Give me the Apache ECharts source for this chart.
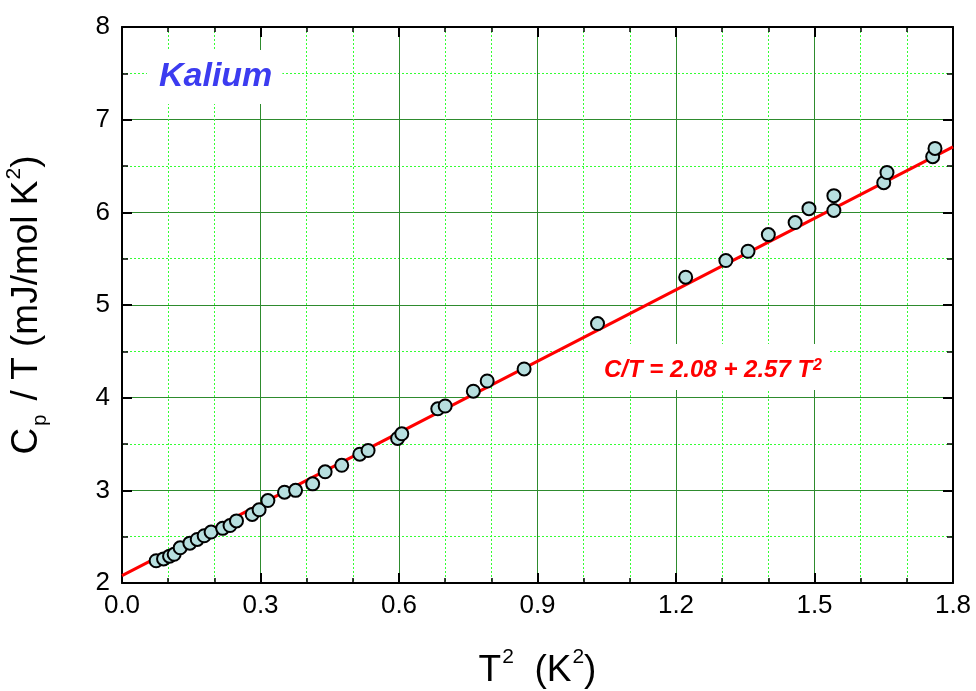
<!DOCTYPE html>
<html>
<head>
<meta charset="utf-8">
<script src="https://cdn.jsdelivr.net/npm/echarts@6/dist/echarts.min.js"></script>
<style>html,body{margin:0;padding:0;background:#fff;}#c{width:976px;height:691px;}</style>
</head>
<body>
<div id="c"></div>
<script>
// Data
const t2 = [0.074, 0.090, 0.103, 0.113, 0.126, 0.147, 0.163, 0.178, 0.193, 0.218, 0.234, 0.248, 0.282, 0.297, 0.316, 0.352, 0.376,
  0.413, 0.440, 0.476, 0.515, 0.533, 0.597, 0.606, 0.684, 0.700, 0.761, 0.791, 0.871,
  1.030, 1.221, 1.308, 1.356, 1.400, 1.458, 1.488, 1.542, 1.542, 1.650, 1.657, 1.756, 1.761];
const cpT = [2.24, 2.26, 2.29, 2.31, 2.38, 2.43, 2.47, 2.51, 2.55, 2.59, 2.62, 2.67, 2.74, 2.79, 2.89, 2.98, 3.00,
  3.07, 3.20, 3.27, 3.39, 3.43, 3.56, 3.61, 3.88, 3.91, 4.07, 4.18, 4.31,
  4.80, 5.30, 5.48, 5.58, 5.76, 5.89, 6.04, 6.02, 6.18, 6.32, 6.43, 6.60, 6.69];
const fitX = [0, 1.8];
const fitY = [2.08, 6.706];
const xTicks = [0.0, 0.3, 0.6, 0.9, 1.2, 1.5, 1.8];
const yTicks = [2, 3, 4, 5, 6, 7, 8];

const font = 'Liberation Sans, Arial, sans-serif';
const majorGrid = { show: true, lineStyle: { color: '#2e8b2e', width: 1, type: 'solid' } };
const minorGrid = { show: true, lineStyle: { color: '#33ff33', width: 1, type: [2, 2] } };

const chart = echarts.init(document.getElementById('c'), null, { renderer: 'canvas' });
const scatterData = t2.map((x, i) => [x, cpT[i]]);
const fitData = fitX.map((x, i) => [x, fitY[i]]);

chart.setOption({
  backgroundColor: '#fff',
  animation: false,
  grid: { left: 122, right: 23, top: 27, bottom: 108, containLabel: false, outerBoundsMode: 'none' },
  xAxis: [{
    type: 'value', min: 0, max: 1.8, interval: 0.3,
    axisLine: { show: true, onZero: false, lineStyle: { color: '#000', width: 2 } },
    axisTick: { show: true, inside: true, length: 10, lineStyle: { color: '#000', width: 2 } },
    minorTick: { show: true, splitNumber: 3, length: 5, lineStyle: { color: '#000', width: 1.5 } },
    splitLine: majorGrid,
    minorSplitLine: minorGrid,
    axisLabel: { color: '#000', fontSize: 26, fontFamily: font, margin: 10,
      formatter: v => xTicks.some(t => Math.abs(t - v) < 1e-6) ? v.toFixed(1) : '' },
    name: '{a|T}{s|2}{a|  (K}{s|2}{a|)}',
    nameLocation: 'middle', nameGap: 64,
    nameTextStyle: { rich: {
      a: { fontSize: 37, fontFamily: font, color: '#000', lineHeight: 42, verticalAlign: 'bottom' },
      s: { fontSize: 21, fontFamily: font, color: '#000', verticalAlign: 'top', lineHeight: 42, padding: [0, 0, 0, 1] }
    } }
  }, {
    type: 'value', min: 0, max: 1.8, interval: 0.3, position: 'top',
    axisLine: { show: true, onZero: false, lineStyle: { color: '#000', width: 2 } },
    axisTick: { show: true, inside: true, length: 10, lineStyle: { color: '#000', width: 2 } },
    minorTick: { show: true, splitNumber: 3, length: 5, lineStyle: { color: '#000', width: 1.5 } },
    splitLine: { show: false }, axisLabel: { show: false }
  }],
  yAxis: [{
    type: 'value', min: 2, max: 8, interval: 1,
    axisLine: { show: true, onZero: false, lineStyle: { color: '#000', width: 2 } },
    axisTick: { show: true, inside: true, length: 10, lineStyle: { color: '#000', width: 2 } },
    minorTick: { show: true, splitNumber: 2, length: 6, lineStyle: { color: '#000', width: 1.5 } },
    splitLine: majorGrid,
    minorSplitLine: minorGrid,
    axisLabel: { color: '#000', fontSize: 26, fontFamily: font, margin: 12,
      formatter: v => yTicks.includes(v) ? String(v) : '' },
    name: '{a|C}{p|p}{a| / T (mJ/mol K}{s|2}{a|)}',
    nameLocation: 'middle', nameGap: 72, nameRotate: 90,
    nameTextStyle: { rich: {
      a: { fontSize: 37, fontFamily: font, color: '#000', lineHeight: 46, verticalAlign: 'middle' },
      p: { fontSize: 20, fontFamily: font, color: '#000', lineHeight: 46, verticalAlign: 'bottom', padding: [0, 4, 0, 2] },
      s: { fontSize: 21, fontFamily: font, color: '#000', lineHeight: 46, verticalAlign: 'top', padding: [0, 0, 0, 1] }
    } }
  }, {
    type: 'value', min: 2, max: 8, interval: 1, position: 'right',
    axisLine: { show: true, onZero: false, lineStyle: { color: '#000', width: 2 } },
    axisTick: { show: true, inside: true, length: 10, lineStyle: { color: '#000', width: 2 } },
    minorTick: { show: true, splitNumber: 2, length: 6, lineStyle: { color: '#000', width: 1.5 } },
    splitLine: { show: false }, axisLabel: { show: false }
  }],
  series: [{
    type: 'line', data: fitData, xAxisIndex: 0, yAxisIndex: 0,
    showSymbol: false, symbol: 'none',
    lineStyle: { color: '#ff0000', width: 3 }, z: 3, silent: true
  }, {
    type: 'scatter', data: scatterData, xAxisIndex: 0, yAxisIndex: 0,
    symbol: 'circle', symbolSize: 13,
    itemStyle: { color: '#b7dfdf', borderColor: '#000', borderWidth: 2, opacity: 1 },
    z: 4
  }],
  graphic: [{
    type: 'text', left: 147, top: 50, z: 100,
    style: {
      text: 'Kalium', font: 'italic bold 34px ' + font, fill: '#3c3cf0',
      backgroundColor: '#fff', padding: [10, 10, 10, 12]
    }
  }, {
    type: 'text', left: 590, top: 344, z: 100,
    style: {
      text: '{a|C/T = 2.08 + 2.57 T}{s|2}',
      backgroundColor: '#fff', padding: [8, 8, 8, 14],
      rich: {
        a: { font: 'italic bold 24px ' + font, fill: '#ff0000', lineHeight: 30, verticalAlign: 'bottom' },
        s: { font: 'italic bold 16px ' + font, fill: '#ff0000', lineHeight: 30, verticalAlign: 'bottom', padding: [0, 0, 8, 1] }
      }
    }
  }]
});
</script>
</body>
</html>
